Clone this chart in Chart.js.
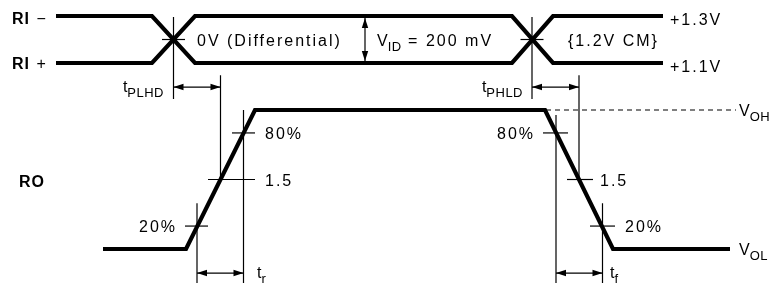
<!DOCTYPE html>
<html>
<head>
<meta charset="utf-8">
<script src="https://cdn.jsdelivr.net/npm/chart.js@4.4.1/dist/chart.umd.min.js"></script>
<style>
    html, body { margin: 0; padding: 0; background: #fff; }
    #wrap { width: 771px; height: 289px; position: relative; }
</style>
</head>
<body>
<div id="wrap"><canvas id="timing"></canvas></div>
<script>
// Входная пара RI-/RI+ (вольты) по оси времени
const riTimes = [56, 152, 195, 512, 553, 663];
const riMinusVolts = [1.3, 1.3, 1.1, 1.1, 1.3, 1.3];
const riPlusVolts = [1.1, 1.1, 1.3, 1.3, 1.1, 1.1];
const crossTimes = [173.5, 532];
const commonModeVolts = 1.2;

// Выход RO (доля размаха: 0 = VOL, 1 = VOH)
const roTimes = [103, 186, 255, 545, 613, 730];
const roLevels = [0, 0, 1, 1, 0, 0];
const vohDashTimes = [546, 736];

// Точки измерения на фронтах: 20%, 1.5, 80%
const markLevels = [0.165, 0.5, 0.835];
const markLabels = ['20%', '1.5', '80%'];
const riseMarkTimes = [197, 220.5, 243.5];
const fallMarkTimes = [602.5, 579, 556];

const black = '#000';

function line(xs, ys, axis, width, extra) {
    return Object.assign({
        data: xs.map((x, i) => ({ x: x, y: ys[i] })),
        yAxisID: axis,
        showLine: true,
        pointRadius: 0,
        borderColor: black,
        borderWidth: width,
        borderCapStyle: 'butt',
        borderJoinStyle: 'miter',
        tension: 0
    }, extra || {});
}

const thin = 1.2;
const datasets = [];

// сигналы
datasets.push(line(riTimes, riMinusVolts, 'yRI', 4.2));
datasets.push(line(riTimes, riPlusVolts, 'yRI', 4.2));
datasets.push(line(roTimes, roLevels, 'yRO', 4.2));
datasets.push(line(vohDashTimes, [1, 1], 'yRO', thin, { borderDash: [5, 4] }));

// вертикали в точках пересечения входов
crossTimes.forEach(t => {
    datasets.push(line([t, t], [1.296, 0.947], 'yRI', thin));
    datasets.push(line([t - 11.5, t + 11.5], [commonModeVolts, commonModeVolts], 'yRI', thin));
});

// вертикали задержки до уровня 1.5
datasets.push(line([riseMarkTimes[1], riseMarkTimes[1]], [1.25, 0.5], 'yRO', thin));
datasets.push(line([fallMarkTimes[1], fallMarkTimes[1]], [1.25, 0.5], 'yRO', thin));

// вертикали 20% / 80%
datasets.push(line([riseMarkTimes[2], riseMarkTimes[2]], [1.0, -0.245], 'yRO', thin));
datasets.push(line([fallMarkTimes[2], fallMarkTimes[2]], [0.964, -0.245], 'yRO', thin));
datasets.push(line([riseMarkTimes[0], riseMarkTimes[0]], [0.33, -0.245], 'yRO', thin));
datasets.push(line([fallMarkTimes[0], fallMarkTimes[0]], [0.33, -0.245], 'yRO', thin));

// засечки на фронтах
const riseTicks = [[185, 208], [208, 255], [232, 255]];
const fallTicks = [[590, 615], [567, 593], [543, 568]];
markLevels.forEach((lv, i) => {
    datasets.push(line(riseTicks[i], [lv, lv], 'yRO', thin));
    datasets.push(line(fallTicks[i], [lv, lv], 'yRO', thin));
});

// стрелки
const delayLevel = 1.165;
const edgeLevel = -0.173;
const arrows = [
    { axis: 'yRO', x0: crossTimes[0], y0: delayLevel, x1: riseMarkTimes[1], y1: delayLevel },
    { axis: 'yRO', x0: crossTimes[1], y0: delayLevel, x1: fallMarkTimes[1], y1: delayLevel },
    { axis: 'yRO', x0: riseMarkTimes[0], y0: edgeLevel, x1: riseMarkTimes[2], y1: edgeLevel },
    { axis: 'yRO', x0: fallMarkTimes[2], y0: edgeLevel, x1: fallMarkTimes[0], y1: edgeLevel },
    { axis: 'yRI', x0: 365, y0: 1.292, x1: 365, y1: 1.108 }
];
arrows.forEach(a => datasets.push(line([a.x0, a.x1], [a.y0, a.y1], a.axis, thin)));

// подписи
const labels = [
    { axis: 'yRI', x: 12, y: 1.292, align: 'left', parts: [{ t: 'RI', bold: true }, { t: ' −' }] },
    { axis: 'yRI', x: 12, y: 1.1, align: 'left', parts: [{ t: 'RI', bold: true }, { t: ' +' }] },
    { axis: 'yRO', x: 19, y: 0.49, align: 'left', parts: [{ t: 'RO', bold: true }] },
    { axis: 'yRI', x: 197, y: commonModeVolts, align: 'left', parts: [{ t: '0V (Differential)' }] },
    { axis: 'yRI', x: 377, y: commonModeVolts, align: 'left', parts: [{ t: 'V', ls: 0 }, { t: 'ID', sub: true }, { t: ' = 200 mV' }] },
    { axis: 'yRI', x: 568, y: commonModeVolts, align: 'left', parts: [{ t: '{1.2V CM}' }] },
    { axis: 'yRI', x: 670, y: 1.287, align: 'left', parts: [{ t: '+1.3V' }] },
    { axis: 'yRI', x: 670, y: 1.087, align: 'left', parts: [{ t: '+1.1V' }] },
    { axis: 'yRO', x: 164, y: delayLevel + 0.01, align: 'right', parts: [{ t: 't', ls: 0 }, { t: 'PLHD', sub: true }] },
    { axis: 'yRO', x: 523, y: delayLevel + 0.01, align: 'right', parts: [{ t: 't', ls: 0 }, { t: 'PHLD', sub: true }] },
    { axis: 'yRO', x: 265, y: markLevels[2], align: 'left', parts: [{ t: markLabels[2] }] },
    { axis: 'yRO', x: 265, y: markLevels[1], align: 'left', parts: [{ t: markLabels[1] }] },
    { axis: 'yRO', x: 177, y: markLevels[0], align: 'right', parts: [{ t: markLabels[0] }] },
    { axis: 'yRO', x: 535, y: markLevels[2], align: 'right', parts: [{ t: markLabels[2] }] },
    { axis: 'yRO', x: 600, y: markLevels[1], align: 'left', parts: [{ t: markLabels[1] }] },
    { axis: 'yRO', x: 625, y: markLevels[0], align: 'left', parts: [{ t: markLabels[0] }] },
    { axis: 'yRO', x: 257, y: edgeLevel + 0.01, align: 'left', parts: [{ t: 't', ls: 0 }, { t: 'r', sub: true }] },
    { axis: 'yRO', x: 610, y: edgeLevel + 0.01, align: 'left', parts: [{ t: 't', ls: 0 }, { t: 'f', sub: true }] },
    { axis: 'yRO', x: 739, y: 1, align: 'left', parts: [{ t: 'V', ls: 0 }, { t: 'OH', sub: true }] },
    { axis: 'yRO', x: 739, y: 0, align: 'left', parts: [{ t: 'V', ls: 0 }, { t: 'OL', sub: true }] }
];

function partFont(p) {
    if (p.bold) return 'bold 16px "Liberation Sans", Arial, sans-serif';
    if (p.sub) return '13px "Liberation Sans", Arial, sans-serif';
    return '16px "Liberation Sans", Arial, sans-serif';
}

function partSpacing(p) {
    if (p.ls !== undefined) return p.ls + 'px';
    if (p.bold) return '1px';
    if (p.sub) return '0.5px';
    return '2px';
}

function drawRich(ctx, parts, x, y, align) {
    let total = 0;
    const widths = parts.map(p => {
        ctx.font = partFont(p);
        ctx.letterSpacing = partSpacing(p);
        const w = ctx.measureText(p.t).width;
        total += w;
        return w;
    });
    let cx = align === 'right' ? x - total : x;
    const base = y + 6;
    parts.forEach((p, i) => {
        ctx.font = partFont(p);
        ctx.letterSpacing = partSpacing(p);
        ctx.fillText(p.t, cx, p.sub ? base + 5 : base);
        cx += widths[i];
    });
}

function arrowHead(ctx, tx, ty, dx, dy) {
    const len = 10, half = 3.2;
    const px = -dy, py = dx;
    ctx.beginPath();
    ctx.moveTo(tx, ty);
    ctx.lineTo(tx - dx * len + px * half, ty - dy * len + py * half);
    ctx.lineTo(tx - dx * len - px * half, ty - dy * len - py * half);
    ctx.closePath();
    ctx.fill();
}

const diagramText = {
    id: 'diagramText',
    afterDatasetsDraw(chart) {
        const ctx = chart.ctx;
        const sx = chart.scales.x;
        ctx.save();
        ctx.fillStyle = black;
        ctx.textAlign = 'left';
        ctx.textBaseline = 'alphabetic';

        arrows.forEach(a => {
            const sy = chart.scales[a.axis];
            const x0 = sx.getPixelForValue(a.x0), y0 = sy.getPixelForValue(a.y0);
            const x1 = sx.getPixelForValue(a.x1), y1 = sy.getPixelForValue(a.y1);
            const d = Math.hypot(x1 - x0, y1 - y0);
            const ux = (x1 - x0) / d, uy = (y1 - y0) / d;
            arrowHead(ctx, x1, y1, ux, uy);
            arrowHead(ctx, x0, y0, -ux, -uy);
        });

        labels.forEach(l => {
            const sy = chart.scales[l.axis];
            drawRich(ctx, l.parts, sx.getPixelForValue(l.x), sy.getPixelForValue(l.y), l.align);
        });
        ctx.restore();
    }
};

new Chart(document.getElementById('timing'), {
    type: 'scatter',
    data: { datasets: datasets },
    options: {
        responsive: true,
        maintainAspectRatio: false,
        devicePixelRatio: 1,
        animation: false,
        events: [],
        layout: { padding: 0 },
        plugins: {
            legend: { display: false },
            tooltip: { enabled: false }
        },
        scales: {
            x: { type: 'linear', min: 0, max: 771, display: false },
            // 1.3 В -> y=16, 1.1 В -> y=63
            yRI: { type: 'linear', min: 1.1 - 226 / 235, max: 1.3 + 16 / 235, display: false },
            // VOH -> y=110, VOL -> y=249
            yRO: { type: 'linear', min: -40 / 139, max: 1 + 110 / 139, display: false }
        }
    },
    plugins: [diagramText]
});
</script>
</body>
</html>
